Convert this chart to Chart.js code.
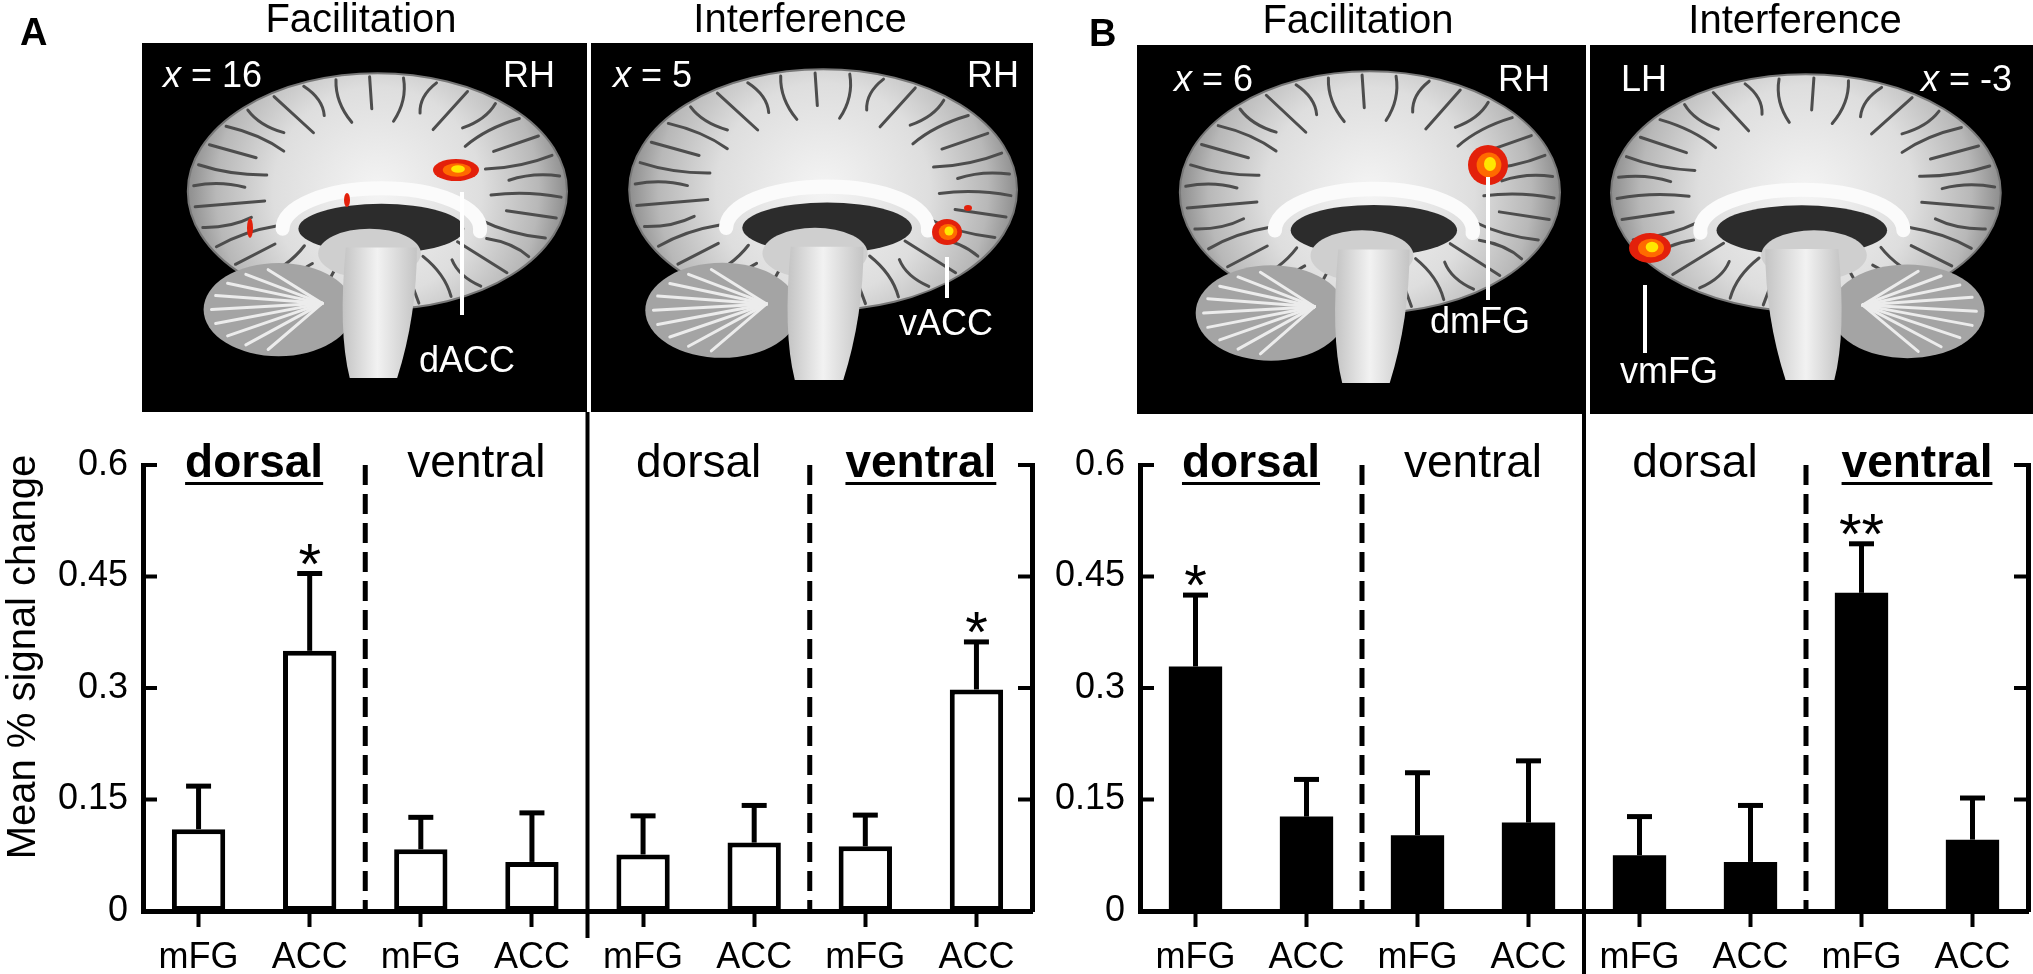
<!DOCTYPE html>
<html><head><meta charset="utf-8">
<script src="https://cdn.jsdelivr.net/npm/chart.js@4.4.1/dist/chart.umd.min.js"></script>
<style>
html,body{margin:0;padding:0;background:#fff;}
#wrap{position:relative;width:2033px;height:974px;overflow:hidden;background:#fff;}
canvas{position:absolute;}
</style></head><body>
<div id="wrap">
<canvas id="bg" width="2033" height="974" style="left:0px;top:0px"></canvas>
<canvas id="chartA" width="1045" height="644" style="left:0px;top:330px"></canvas>
<canvas id="chartB" width="993" height="644" style="left:1040px;top:330px"></canvas>
</div>
<script>
// ---------------- DATA ----------------
const categories = ['mFG','ACC','mFG','ACC','mFG','ACC','mFG','ACC'];
const sectionLabels = ['dorsal','ventral','dorsal','ventral'];
const sectionSignificant = [true,false,false,true];
const conditionTitles = ['Facilitation','Interference'];
const panelLetters = ['A','B'];
const yTicks = [0,0.15,0.3,0.45,0.6];
const yTickLabels = ['0','0.15','0.3','0.45','0.6'];
const yTitle = 'Mean % signal change';

// Panel A (open bars)
const meanA = [0.110,0.350,0.083,0.066,0.076,0.092,0.087,0.298];
const errA  = [0.058,0.104,0.043,0.066,0.052,0.050,0.042,0.064];
const starsA = ['','*','','','','','','*'];
// Panel B (filled bars)
const meanB = [0.329,0.127,0.102,0.119,0.075,0.066,0.428,0.096];
const errB  = [0.096,0.050,0.084,0.083,0.052,0.076,0.066,0.056];
const starsB = ['*','','','','','','**',''];

// image annotations (text)
const sliceLabelsA = ['x = 16','x = 5'];
const sliceLabelsB = ['x = 6','x = -3'];
const hemiLabelsA = ['RH','RH'];
const hemiLabelsB = ['RH','LH'];
const regionLabelsA = ['dACC','vACC'];
const regionLabelsB = ['dmFG','vmFG'];

const FONT = "'Liberation Sans', Arial, Helvetica, sans-serif";
Chart.defaults.font.family = FONT;
Chart.defaults.color = '#000';

// ---------------- BACKGROUND: headings & brain images ----------------
const bg = document.getElementById('bg').getContext('2d');
bg.fillStyle = '#fff'; bg.fillRect(0,0,2033,974);
bg.fillStyle = '#000';
bg.font = 'bold 38px ' + FONT; bg.textAlign = 'left'; bg.textBaseline = 'alphabetic';
bg.fillText(panelLetters[0], 20, 45);
bg.fillText(panelLetters[1], 1089, 46);
bg.font = '40px ' + FONT; bg.textAlign = 'center';
bg.fillText(conditionTitles[0], 361, 32);
bg.fillText(conditionTitles[1], 800, 32);
bg.fillText(conditionTitles[0], 1358, 33);
bg.fillText(conditionTitles[1], 1795, 33);

function ell(ctx, cx, cy, rx, ry, a0, a1){ ctx.beginPath(); ctx.ellipse(cx, cy, rx, ry, 0, a0 ?? 0, a1 ?? Math.PI*2); }

function drawBrain(ctx, b, flip){
  const W = b.x1-b.x0, H = b.y1-b.y0;
  ctx.save();
  ctx.beginPath(); ctx.rect(b.x0-5,b.y0-5,W+10,H+10); ctx.clip();
  if (flip){ ctx.translate(b.x0+b.x1,0); ctx.scale(-1,1); }
  const X = f => b.x0 + f*W, Y = f => b.y0 + f*H;
  // cerebrum
  const cx = X(0.52), cy = Y(0.40), rx = 0.48*W, ry = 0.38*H;
  const g = ctx.createRadialGradient(cx, cy, 0, cx, cy, rx);
  g.addColorStop(0,'#f4f4f4'); g.addColorStop(0.55,'#dedede'); g.addColorStop(0.85,'#b8b8b8'); g.addColorStop(1,'#8e8e8e');
  ctx.fillStyle = g; ell(ctx, cx, cy, rx, ry); ctx.fill();
  // sulci
  ctx.strokeStyle = '#4d4d4d'; ctx.lineWidth = 3; ctx.lineCap = 'round';
  for (let k=0;k<34;k++){
    const a = k*(Math.PI*2/34) + 0.05;
    const r0 = (k%2 ? 0.70 : 0.60), r1 = 0.97;
    const bend = (k%3-1)*0.06;
    ctx.beginPath();
    ctx.moveTo(cx + Math.cos(a)*rx*r0, cy + Math.sin(a)*ry*r0);
    ctx.quadraticCurveTo(cx + Math.cos(a+bend)*rx*(r0+r1)/2, cy + Math.sin(a+bend)*ry*(r0+r1)/2,
                         cx + Math.cos(a)*rx*r1, cy + Math.sin(a)*ry*r1);
    ctx.stroke();
  }
  ctx.strokeStyle = '#777'; ctx.lineWidth = 2; ell(ctx, cx, cy, rx, ry); ctx.stroke();
  // ventricle & callosum
  ctx.fillStyle = '#2c2c2c'; ell(ctx, X(0.53), Y(0.52), 0.21*W, 0.08*H); ctx.fill();
  ctx.strokeStyle = '#fbfbfb'; ctx.lineWidth = 0.045*H;
  ell(ctx, X(0.53), Y(0.52), 0.25*W, 0.13*H, Math.PI, Math.PI*2.02); ctx.stroke();
  ctx.fillStyle = '#cfcfcf'; ell(ctx, X(0.50), Y(0.60), 0.13*W, 0.08*H); ctx.fill();
  // cerebellum
  const ccx = X(0.27), ccy = Y(0.78);
  ctx.fillStyle = '#a4a4a4'; ell(ctx, ccx, ccy, 0.19*W, 0.15*H); ctx.fill();
  ctx.strokeStyle = '#ececec'; ctx.lineWidth = 3;
  for (let k=0;k<9;k++){
    const a = Math.PI*0.55 + k*(Math.PI*0.9/8);
    ctx.beginPath(); ctx.moveTo(X(0.38), Y(0.76));
    ctx.lineTo(ccx + Math.cos(a)*0.17*W, ccy + Math.sin(a)*0.13*H); ctx.stroke();
  }
  // brainstem
  const sg = ctx.createLinearGradient(X(0.42),0,X(0.62),0);
  sg.addColorStop(0,'#bdbdbd'); sg.addColorStop(0.5,'#f2f2f2'); sg.addColorStop(1,'#c4c4c4');
  ctx.fillStyle = sg;
  ctx.beginPath(); ctx.moveTo(X(0.44),Y(0.58));
  ctx.quadraticCurveTo(X(0.42),Y(0.85),X(0.45),Y(1.0));
  ctx.lineTo(X(0.57),Y(1.0));
  ctx.quadraticCurveTo(X(0.62),Y(0.8),X(0.62),Y(0.58)); ctx.closePath(); ctx.fill();
  ctx.restore();
}
function blob(ctx, cx, cy, rx, ry){
  ctx.fillStyle = '#e3200b'; ell(ctx, cx, cy, rx, ry); ctx.fill();
  ctx.fillStyle = '#ff6a00'; ell(ctx, cx+1, cy, rx*0.62, ry*0.62); ctx.fill();
  ctx.fillStyle = '#ffe600'; ell(ctx, cx+2, cy-1, rx*0.3, ry*0.35); ctx.fill();
}
function spot(ctx, cx, cy, rx, ry){ ctx.fillStyle = '#e3200b'; ell(ctx, cx, cy, rx, ry); ctx.fill(); }
function sliceText(ctx, txt, x, y){
  // italic x then the rest
  ctx.textAlign = 'left'; ctx.fillStyle = '#fff';
  ctx.font = 'italic 36px ' + FONT; ctx.fillText(txt[0], x, y);
  const w = ctx.measureText(txt[0]).width;
  ctx.font = '36px ' + FONT; ctx.fillText(txt.slice(1), x + w, y);
}
function whiteText(ctx, txt, x, y){ ctx.textAlign='left'; ctx.fillStyle='#fff'; ctx.font='36px '+FONT; ctx.fillText(txt, x, y); }
function leader(ctx, x, y0, y1){ ctx.strokeStyle='#fff'; ctx.lineWidth=4; ctx.lineCap='butt'; ctx.beginPath(); ctx.moveTo(x,y0); ctx.lineTo(x,y1); ctx.stroke(); }

// panel A images
bg.fillStyle = '#000'; bg.fillRect(142,43,445,369); bg.fillRect(591,43,442,369);
drawBrain(bg, {x0:172,y0:67,x1:567,y1:378}, false);
drawBrain(bg, {x0:613,y0:63,x1:1017,y1:380}, false);
blob(bg, 456, 170, 23, 11); spot(bg, 347, 200, 3, 7); spot(bg, 250, 228, 3, 10);
blob(bg, 947, 232, 15, 13); spot(bg, 968, 208, 4, 3);
leader(bg, 462, 192, 315); leader(bg, 947, 257, 298);
sliceText(bg, sliceLabelsA[0], 163, 87); whiteText(bg, hemiLabelsA[0], 503, 87);
whiteText(bg, regionLabelsA[0], 419, 372);
sliceText(bg, sliceLabelsA[1], 613, 87); whiteText(bg, hemiLabelsA[1], 967, 87);
whiteText(bg, regionLabelsA[1], 899, 335);
// panel B images
bg.fillStyle = '#000'; bg.fillRect(1137,45,449,369); bg.fillRect(1590,45,443,369);
drawBrain(bg, {x0:1164,y0:65,x1:1560,y1:383}, false);
drawBrain(bg, {x0:1611,y0:68,x1:2017,y1:380}, true);
blob(bg, 1488, 165, 20, 20);
blob(bg, 1650, 248, 21, 15);
leader(bg, 1488, 177, 300); leader(bg, 1645, 285, 353);
sliceText(bg, sliceLabelsB[0], 1174, 91); whiteText(bg, hemiLabelsB[0], 1498, 91);
whiteText(bg, regionLabelsB[0], 1430, 333);
whiteText(bg, hemiLabelsB[1], 1621, 91); sliceText(bg, sliceLabelsB[1], 1921, 91);
whiteText(bg, regionLabelsB[1], 1620, 383);

// ---------------- CHARTS ----------------
function tickLabel(v){
  const k = yTicks.findIndex(t => Math.abs(t - v) < 1e-9);
  return k >= 0 ? yTickLabels[k] : '';
}
function makeChart(id, cfg){
  const overlay = {
    id: 'overlay',
    afterDatasetsDraw(chart){
      const {ctx, scales:{x, y}} = chart;
      ctx.save();
      ctx.strokeStyle = '#000'; ctx.lineWidth = 5; ctx.lineCap = 'butt';
      cfg.means.forEach((m, i) => {
        const px = x.getPixelForValue(i);
        const yt = y.getPixelForValue(m);
        const ye = y.getPixelForValue(m + cfg.errs[i]);
        ctx.beginPath(); ctx.moveTo(px, yt); ctx.lineTo(px, ye); ctx.stroke();
        ctx.beginPath(); ctx.moveTo(px-12.5, ye); ctx.lineTo(px+12.5, ye); ctx.stroke();
        if (cfg.stars[i]){
          ctx.fillStyle = '#000'; ctx.font = '58px ' + FONT; ctx.textAlign = 'center'; ctx.textBaseline = 'alphabetic';
          ctx.fillText(cfg.stars[i], px, ye + 10);
        }
      });
      ctx.restore();
    },
    afterDraw(chart){
      const {ctx, chartArea: ca, scales:{x, y}} = chart;
      ctx.save();
      ctx.strokeStyle = '#000'; ctx.lineWidth = 4; ctx.lineCap = 'butt';
      yTicks.forEach(v => {
        const py = y.getPixelForValue(v);
        ctx.beginPath(); ctx.moveTo(ca.left, py); ctx.lineTo(ca.left + 14, py); ctx.stroke();
        ctx.beginPath(); ctx.moveTo(ca.right - 14, py); ctx.lineTo(ca.right, py); ctx.stroke();
      });
      // dashed separators between regions
      ctx.lineWidth = 5; ctx.setLineDash([20, 9]);
      [1, 5].forEach(i => {
        const px = (x.getPixelForValue(i) + x.getPixelForValue(i+1)) / 2;
        ctx.beginPath(); ctx.moveTo(px, ca.top); ctx.lineTo(px, ca.bottom + 3); ctx.stroke();
      });
      ctx.setLineDash([]);
      // solid separator between conditions
      ctx.lineWidth = 4;
      const sx = (x.getPixelForValue(3) + x.getPixelForValue(4)) / 2;
      ctx.beginPath(); ctx.moveTo(sx, cfg.solidTop); ctx.lineTo(sx, cfg.solidBottom); ctx.stroke();
      // section labels
      ctx.fillStyle = '#000'; ctx.textAlign = 'center'; ctx.textBaseline = 'alphabetic';
      sectionLabels.forEach((lab, s) => {
        const cx = (x.getPixelForValue(2*s) + x.getPixelForValue(2*s+1)) / 2;
        ctx.font = (sectionSignificant[s] ? 'bold ' : '') + '46px ' + FONT;
        ctx.fillText(lab, cx, ca.top + 12);
        if (sectionSignificant[s]){
          const w = ctx.measureText(lab).width;
          ctx.fillRect(cx - w/2, ca.top + 17, w, 3);
        }
      });
      // y title
      if (cfg.showTitle){
        ctx.save();
        ctx.translate(24, cfg.titleY); ctx.rotate(-Math.PI/2);
        ctx.font = '40px ' + FONT; ctx.textAlign = 'center'; ctx.textBaseline = 'middle';
        ctx.fillText(yTitle, 0, 0);
        ctx.restore();
      }
      ctx.restore();
    }
  };
  return new Chart(document.getElementById(id), {
    type: 'bar',
    data: { labels: categories, datasets: [{
      data: cfg.means, backgroundColor: cfg.fill, borderColor: '#000', borderWidth: cfg.borderWidth,
      borderSkipped: false, barPercentage: 0.48, categoryPercentage: 1
    }]},
    options: {
      responsive: false, animation: false, devicePixelRatio: 1,
      layout: { padding: { top: 135, left: 0, right: 0, bottom: 0 } },
      plugins: { legend: { display: false }, tooltip: { enabled: false } },
      scales: {
        x: {
          type: 'category', offset: true,
          grid: { display: true, drawOnChartArea: false, drawTicks: true, tickLength: 16, tickWidth: 4,
                  tickColor: '#000', color: '#000', offset: false },
          border: { display: true, color: '#000', width: 5 },
          ticks: { font: { size: 36 }, color: '#000', padding: 9, maxRotation: 0, autoSkip: false },
          afterFit: s => { s.height = 63; }
        },
        y: {
          min: 0, max: 0.6, position: 'left',
          afterBuildTicks: s => { s.ticks = yTicks.map(v => ({ value: v })); },
          grid: { display: false, drawTicks: false },
          border: { display: true, color: '#000', width: 5 },
          ticks: { font: { size: 36 }, color: '#000', padding: 15, callback: v => tickLabel(v) },
          afterFit: s => { s.width = cfg.yWidth; }
        },
        y2: {
          min: 0, max: 0.6, position: 'right',
          grid: { display: false, drawTicks: false },
          border: { display: true, color: '#000', width: 5 },
          ticks: { display: false },
          afterFit: s => { s.width = cfg.y2Width; }
        }
      }
    },
    plugins: [overlay]
  });
}

makeChart('chartA', { means: meanA, errs: errA, stars: starsA, fill: '#fff', borderWidth: 5,
  yWidth: 143, y2Width: 13, solidTop: 412-330, solidBottom: 938-330, showTitle: true, titleY: 657-330 });
makeChart('chartB', { means: meanB, errs: errB, stars: starsB, fill: '#000', borderWidth: 0,
  yWidth: 100, y2Width: 5, solidTop: 414-330, solidBottom: 644, showTitle: false });
</script>
</body></html>
